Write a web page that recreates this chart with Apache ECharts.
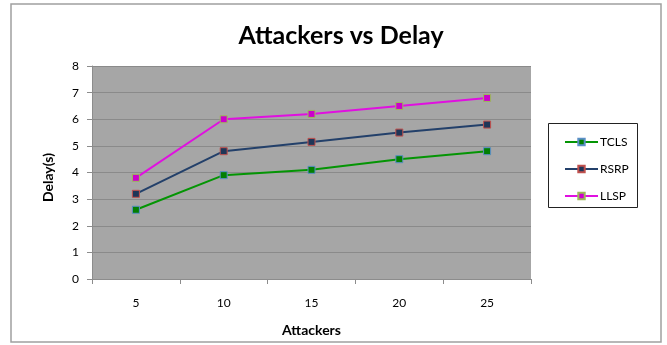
<!DOCTYPE html>
<html>
<head>
<meta charset="utf-8">
<script src="https://cdn.jsdelivr.net/npm/echarts@6/dist/echarts.min.js"></script>
<style>
  html, body { margin: 0; padding: 0; background: #fff; }
  #chart { width: 667px; height: 345px; }
</style>
</head>
<body>
<div id="chart"></div>
<script>
// Attackers on the x axis, delay in seconds per protocol
const attackers = ['5', '10', '15', '20', '25'];
const tcls = [2.6, 3.9, 4.1, 4.5, 4.8];
const rsrp = [3.2, 4.8, 5.15, 5.5, 5.8];
const llsp = [3.8, 6.0, 6.2, 6.5, 6.8];

const FONT = 'Lato, "Open Sans", sans-serif';

function lineSeries(name, data, lineColor, fill, border) {
  return {
    name: name,
    type: 'line',
    data: data,
    symbol: 'rect',
    symbolSize: 7,
    showSymbol: true,
    lineStyle: { color: lineColor, width: 2 },
    itemStyle: { color: fill, borderColor: border, borderWidth: 1 },
    emphasis: { disabled: true },
    animation: false
  };
}

const chart = echarts.init(document.getElementById('chart'));
chart.setOption({
  backgroundColor: '#ffffff',
  animation: false,
  textStyle: { fontFamily: FONT },
  title: {
    text: 'Attackers vs Delay',
    left: 336,
    textAlign: 'center',
    top: 18,
    textStyle: { fontFamily: FONT, fontWeight: 'bold', fontSize: 25, color: '#000' }
  },
  graphic: [
    {
      type: 'rect',
      shape: { x: 11, y: 4, width: 650, height: 338 },
      style: { fill: 'none', stroke: '#a0a0a0', lineWidth: 1.5 },
      silent: true, z: -1
    },
    {
      type: 'rect',
      shape: { x: 548.5, y: 123.5, width: 89, height: 84 },
      style: { fill: '#fff', stroke: '#222', lineWidth: 1 },
      silent: true, z: 0
    }
  ],
  legend: {
    orient: 'vertical',
    left: 559,
    top: 131,
    itemWidth: 33,
    itemHeight: 8,
    itemGap: 15,
    z: 5,
    textStyle: { fontFamily: FONT, fontSize: 12, color: '#000', padding: [0, 0, 0, -3] },
    data: ['TCLS', 'RSRP', 'LLSP']
  },
  grid: {
    left: 92,
    top: 66,
    width: 439,
    height: 213,
    show: true,
    backgroundColor: '#a6a6a6',
    borderWidth: 0
  },
  xAxis: {
    type: 'category',
    data: attackers,
    boundaryGap: true,
    name: 'Attackers',
    nameLocation: 'middle',
    nameGap: 44,
    nameTextStyle: { fontFamily: FONT, fontWeight: 'bold', fontSize: 14, color: '#000' },
    axisLine: { show: true, lineStyle: { color: '#8c8c8c', width: 1 } },
    axisTick: { show: true, length: 5, lineStyle: { color: '#8c8c8c' } },
    axisLabel: { margin: 18, fontFamily: FONT, fontSize: 12, color: '#000' },
    splitLine: { show: false }
  },
  yAxis: {
    type: 'value',
    min: 0,
    max: 8,
    interval: 1,
    name: 'Delay(s)',
    nameLocation: 'middle',
    nameGap: 37,
    nameRotate: 90,
    nameTextStyle: { fontFamily: FONT, fontWeight: 'bold', fontSize: 14, color: '#000', padding: [0, 0, 0, -10] },
    axisLine: { show: true, lineStyle: { color: '#8c8c8c', width: 1 } },
    axisTick: { show: true, length: 5, lineStyle: { color: '#8c8c8c' } },
    axisLabel: { margin: 13, fontFamily: FONT, fontSize: 12, color: '#000' },
    splitLine: { show: true, lineStyle: { color: '#8a8a8a', width: 1 } }
  },
  series: [
    lineSeries('TCLS', tcls, '#049504', '#027f02', '#5b8fc7'),
    lineSeries('RSRP', rsrp, '#23406a', '#1f3658', '#c0504d'),
    lineSeries('LLSP', llsp, '#e010e0', '#cc00cc', '#9bbb59')
  ]
});
</script>
</body>
</html>
